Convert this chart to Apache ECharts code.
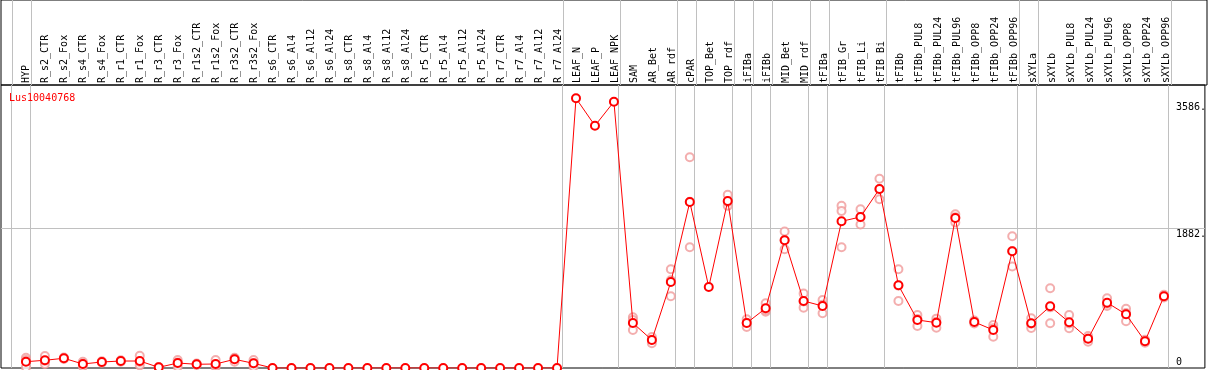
<!DOCTYPE html>
<html><head><meta charset="utf-8">
<script src="https://cdn.jsdelivr.net/npm/echarts@6/dist/echarts.min.js"></script>
<style>html,body{margin:0;padding:0;background:#fff}#c{width:1209px;height:370px}</style>
</head><body><div id="c"></div>
<script>
const geneName = 'Lus10040768';
const categories = ['HYP','R_s2_CTR','R_s2_Fox','R_s4_CTR','R_s4_Fox','R_r1_CTR','R_r1_Fox','R_r3_CTR','R_r3_Fox',
 'R_r1s2_CTR','R_r1s2_Fox','R_r3s2_CTR','R_r3s2_Fox','R_s6_CTR','R_s6_Al4','R_s6_Al12','R_s6_Al24',
 'R_s8_CTR','R_s8_Al4','R_s8_Al12','R_s8_Al24','R_r5_CTR','R_r5_Al4','R_r5_Al12','R_r5_Al24',
 'R_r7_CTR','R_r7_Al4','R_r7_Al12','R_r7_Al24','LEAF_N','LEAF_P','LEAF_NPK','SAM','AR_Bet','AR_rdf',
 'cPAR','TOP_Bet','TOP_rdf','iFIBa','iFIBb','MID_Bet','MID_rdf','tFIBa','tFIB_Gr','tFIB_Li','tFIB_Bi',
 'tFIBb','tFIBb_PUL8','tFIBb_PUL24','tFIBb_PUL96','tFIBb_OPP8','tFIBb_OPP24','tFIBb_OPP96',
 'sXYLa','sXYLb','sXYLb_PUL8','sXYLb_PUL24','sXYLb_PUL96','sXYLb_OPP8','sXYLb_OPP24','sXYLb_OPP96'];
const meanValues = [85,104,131,54,81,94,94,9,67,50,54,117,63,0,0,0,0,0,0,0,0,0,0,0,0,0,0,0,0,
 3633,3264,3587,606,377,1159,2236,1091,2250,606,804,1720,903,835,1976,2034,2411,
 1114,647,610,2021,620,512,1572,602,831,616,395,880,723,360,966];
const rep1 = [139,162,140,85,90,105,166,12,108,60,108,139,108,null,null,null,null,null,null,null,null,null,null,null,null,null,null,null,null,
 null,null,null,683,418,1330,2840,null,2332,656,872,1838,1002,917,2184,2139,2548,
 1330,714,665,2072,640,580,1775,670,1074,714,431,939,799,380,985];
const rep2 = [9,54,122,20,72,83,36,6,18,40,14,85,18,null,null,null,null,null,null,null,null,null,null,null,null,null,null,null,null,
 null,null,null,512,333,966,1627,null,2184,553,759,1600,813,737,2116,1932,2274,
 903,566,543,1959,600,422,1366,539,602,535,355,836,629,340,950];
const rep3 = [107,96,null,57,null,null,80,null,75,null,40,127,63,null,null,null,null,null,null,null,null,null,null,null,null,null,null,null,null,
 null,null,null,647,380,1181,2240,null,2235,610,780,1722,895,851,1627,2030,2411,
 1110,660,622,2032,null,535,1575,597,817,600,399,865,741,360,null];
const groupEnds = [-1,0,28,31,34,35,37,38,39,41,42,45,52,53,60];
const yTicks = [0,1882,3586];
const gridLineAt = 1882;

const FONT = 'DejaVu Sans Mono';
const xMin = -25/19, xMax = -25/19 + 1206/19;
const sepLines = groupEnds.map(i => ({xAxis: i + 0.25}));
const toPts = arr => arr.map((v,i) => v == null ? null : [i, v]).filter(p => p);
const repStyle = {color:'#f09a9a', borderColor:'#f09a9a', borderWidth:1.1};
const mkRep = arr => ({type:'scatter', xAxisIndex:1, yAxisIndex:1, data:toPts(arr), symbol:'emptyCircle',
  symbolSize:8, itemStyle:repStyle, z:3, silent:true});

const chart = echarts.init(document.getElementById('c'), null, {renderer:'canvas'});
chart.setOption({
  animation:false,
  backgroundColor:'#fff',
  title:{text:geneName, left:4, top:88, textStyle:{color:'#ff0000', fontSize:10, fontFamily:FONT, fontWeight:'normal'}},
  grid:[
    {left:1, top:0, width:1206, height:85, show:true, borderColor:'#000', borderWidth:1, backgroundColor:'transparent'},
    {left:1, top:85, width:1206, height:283, show:true, borderColor:'#000', borderWidth:1, backgroundColor:'transparent'}
  ],
  xAxis:[
    {type:'value', gridIndex:0, min:xMin, max:xMax, position:'bottom',
     axisLine:{show:false}, axisTick:{show:false}, splitLine:{show:false},
     axisLabel:{inside:true, rotate:90, margin:2, customValues:categories.map((c,i)=>i),
       formatter:v => categories[Math.round(v)] || '', fontFamily:FONT, fontSize:10, color:'#000',
       hideOverlap:false}},
    {type:'value', gridIndex:1, min:xMin, max:xMax, show:false, splitLine:{show:false}}
  ],
  yAxis:[
    {type:'value', gridIndex:0, min:0, max:1, show:false, splitLine:{show:false}},
    {type:'value', gridIndex:1, min:0, max:3812, position:'right', offset:-37,
     axisLine:{show:false}, axisTick:{show:false}, splitLine:{show:false},
     axisLabel:{customValues:yTicks, margin:8, color:'#000', fontFamily:FONT, fontSize:10, align:'left',
       formatter:v => v === 0 ? '{z|0}' : '{t|' + v + '.}',
       rich:{z:{padding:[0,0,12,0], fontFamily:FONT, fontSize:10, color:'#000'},
             t:{padding:[12,0,0,0], fontFamily:FONT, fontSize:10, color:'#000'}}}}
  ],
  series:[
    {type:'line', xAxisIndex:0, yAxisIndex:0, data:[], silent:true,
     markLine:{silent:true, symbol:['none','none'], label:{show:false}, z:1,
       lineStyle:{color:'#c0c0c0', width:1, type:'solid'}, data:sepLines}},
    mkRep(rep1), mkRep(rep2), mkRep(rep3),
    {type:'line', xAxisIndex:1, yAxisIndex:1, data:toPts(meanValues), symbol:'emptyCircle', symbolSize:8,
     showAllSymbol:true, lineStyle:{color:'#ff0000', width:1},
     itemStyle:{color:'#ff0000', borderColor:'#ff0000', borderWidth:1.3},
     z:5, silent:true,
     markLine:{silent:true, symbol:['none','none'], label:{show:false}, z:1,
       lineStyle:{color:'#c0c0c0', width:1, type:'solid'},
       data:sepLines.concat([{yAxis:gridLineAt}])}}
  ]
});
</script></body></html>
